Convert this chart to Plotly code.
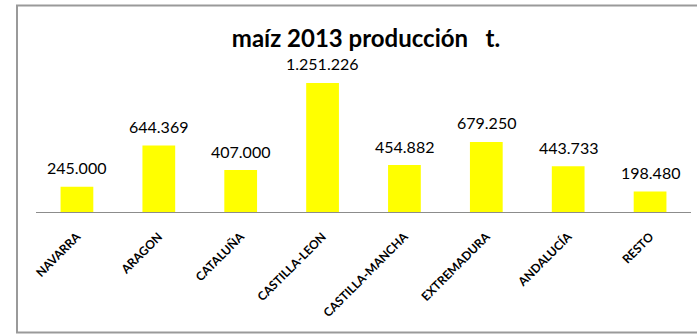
import plotly.graph_objects as go

# Maize production 2013 by region (tonnes)
regiones = ["NAVARRA", "ARAGON", "CATALUÑA", "CASTILLA-LEON",
            "CASTILLA-MANCHA", "EXTREMADURA", "ANDALUCÍA", "RESTO"]
produccion = [245000, 644369, 407000, 1251226, 454882, 679250, 443733, 198480]

titulo = "maíz 2013 producción\u00a0\u00a0 t."

W, H = 697, 335
ML, MR, MT, MB = 36, 6, 20, 123
plot_w = W - ML - MR
plot_h = H - MT - MB
ymax = 1862000


def fmt(v):
    return f"{v:,}".replace(",", ".")


fig = go.Figure(
    go.Bar(
        x=regiones,
        y=produccion,
        marker=dict(color="#FFFF00", line=dict(width=0)),
        width=0.4,
        hoverinfo="x+y",
    )
)

# value labels above each bar
for r, v in zip(regiones, produccion):
    fig.add_annotation(
        x=r, y=v, text=fmt(v), showarrow=False,
        yanchor="middle", yshift=19,
        font=dict(family="Lato, sans-serif", size=16, color="#000000"),
    )

# outer chart frame
def px_to_paper_x(px):
    return (px - ML) / plot_w


def px_to_paper_y(py):
    return (H - MB - py) / plot_h


fig.add_shape(
    type="rect", xref="paper", yref="paper",
    x0=px_to_paper_x(17), x1=px_to_paper_x(705),
    y0=px_to_paper_y(332.5), y1=px_to_paper_y(5.5),
    line=dict(color="#9A9A9A", width=2), fillcolor="rgba(0,0,0,0)",
    layer="below",
)

fig.update_layout(
    width=W, height=H,
    margin=dict(l=ML, r=MR, t=MT, b=MB, pad=0),
    paper_bgcolor="white", plot_bgcolor="white",
    showlegend=False,
    title=dict(
        text=f"<b>{titulo}</b>",
        x=366 / W, xref="container", xanchor="center",
        y=1 - 39 / H, yref="container", yanchor="middle",
        font=dict(family="Lato, sans-serif", size=24, color="#000000"),
    ),
    xaxis=dict(
        showline=True, linecolor="#8C8C8C", linewidth=1,
        ticks="", tickangle=-45, ticklabelstandoff=12,
        tickfont=dict(family="Lato, sans-serif", size=12, color="#000000", weight="bold"),
        showgrid=False, zeroline=False, fixedrange=True,
    ),
    yaxis=dict(
        range=[0, ymax], visible=False, showgrid=False, zeroline=False,
        fixedrange=True,
    ),
)

fig.write_html("out.html")
